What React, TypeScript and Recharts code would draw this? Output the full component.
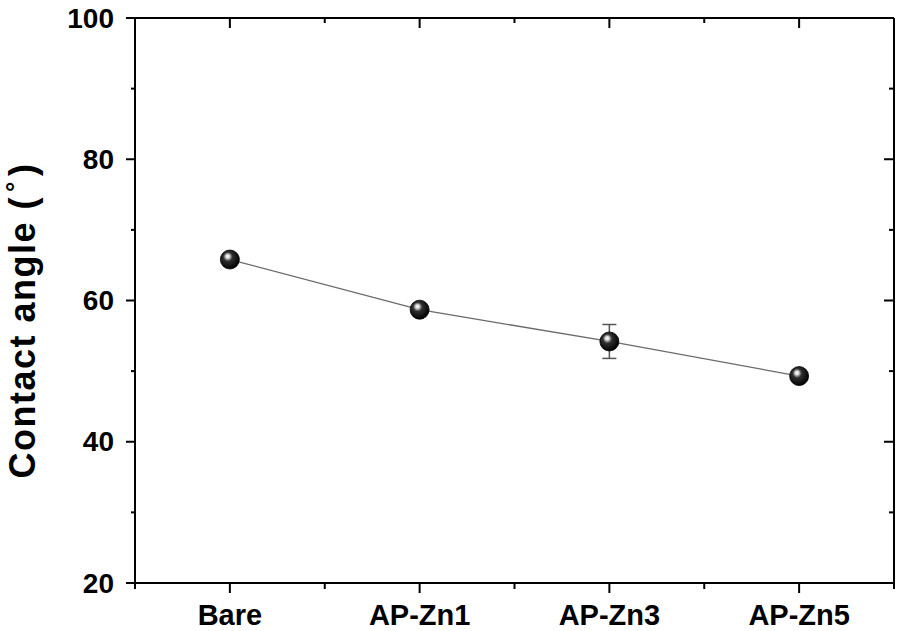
import React from 'react';
import { ComposedChart, Line, XAxis, YAxis, ErrorBar } from 'recharts';

const categories = ['Bare', 'AP-Zn1', 'AP-Zn3', 'AP-Zn5'];
const contactAngle = [65.8, 58.7, 54.2, 49.3];
const angleError = [0.5, 0.6, 2.4, 0.5];
const yMajorTicks = [20, 40, 60, 80, 100];
const yAllTicks = [20, 30, 40, 50, 60, 70, 80, 90, 100];
const xAllTicks = [0.5, 1, 1.5, 2, 2.5, 3, 3.5, 4, 4.5];

const data = categories.map((c, i) => ({ x: i + 1, name: c, y: contactAngle[i], err: angleError[i] }));

const FONT = '"Liberation Sans", Arial, Helvetica, sans-serif';

const isMajorY = (v: number) => yMajorTicks.includes(v);
const isMajorX = (v: number) => Number.isInteger(v);

const LeftTick = (props: any) => {
  const { x, y, payload } = props;
  const major = isMajorY(payload.value);
  const len = major ? 9 : 4;
  return (
    <g>
      <line x1={x} y1={y} x2={x - len} y2={y} stroke="#000" strokeWidth={2} />
      {major && (
        <text x={x - 21} y={y} textAnchor="end" dominantBaseline="central" fontFamily={FONT} fontWeight="bold" fontSize={28} fill="#000">
          {payload.value}
        </text>
      )}
    </g>
  );
};

const RightTick = (props: any) => {
  const { x, y, payload } = props;
  const major = isMajorY(payload.value);
  const len = major ? 10 : 5;
  return <line x1={x} y1={y} x2={x - len} y2={y} stroke="#000" strokeWidth={2} />;
};

const BottomTick = (props: any) => {
  const { x, y, payload } = props;
  const major = isMajorX(payload.value);
  const len = major ? 10 : 6;
  return (
    <g>
      <line x1={x} y1={y} x2={x} y2={y + len} stroke="#000" strokeWidth={2} />
      {major && (
        <text x={x} y={y + 42} textAnchor="middle" fontFamily={FONT} fontWeight="bold" fontSize={29} fill="#000">
          {categories[payload.value - 1]}
        </text>
      )}
    </g>
  );
};

const TopTick = (props: any) => {
  const { x, y, payload } = props;
  const major = isMajorX(payload.value);
  const len = major ? 10 : 5;
  return <line x1={x} y1={y} x2={x} y2={y + len} stroke="#000" strokeWidth={2} />;
};

const Sphere = (props: any) => {
  const { cx, cy } = props;
  if (cx == null || cy == null) return null;
  return <circle cx={cx} cy={cy} r={9.5} fill="url(#sphereGrad)" stroke="#000" strokeWidth={0.8} />;
};

const YLabel = (props: any) => {
  const vb = props.viewBox || {};
  const cx = vb.x + vb.width - 113;
  const cy = vb.y + vb.height / 2 + 20;
  return (
    <text x={cx} y={cy} transform={`rotate(-90 ${cx} ${cy})`} textAnchor="middle" dominantBaseline="central" fontFamily={FONT} fontWeight="bold" fontSize={36} letterSpacing={1.5} fill="#000">
      Contact angle (<tspan fontSize={26} dx={4} dy={-7}>°</tspan><tspan dx={4} dy={7}>)</tspan>
    </text>
  );
};

export default function App() {
  return (
    <div style={{ position: 'absolute', left: 0, top: 0, width: 900, height: 631, background: '#fff' }}>
      <ComposedChart width={900} height={631} data={data} margin={{ top: 17, right: 5, bottom: 47, left: 134 }}>
        <defs>
          <radialGradient id="sphereGrad" cx="42%" cy="40%" r="60%" fx="38%" fy="32%">
            <stop offset="0%" stopColor="#ffffff" />
            <stop offset="15%" stopColor="#e0e0e0" />
            <stop offset="40%" stopColor="#303030" />
            <stop offset="100%" stopColor="#000000" />
          </radialGradient>
        </defs>
        <XAxis
          xAxisId="bottom"
          type="number"
          dataKey="x"
          domain={[0.5, 4.5]}
          ticks={xAllTicks}
          interval={0}
          height={1}
          tickSize={0}
          tickMargin={0}
          tickLine={false}
          axisLine={{ stroke: '#000', strokeWidth: 2 }}
          tick={<BottomTick />}
          allowDataOverflow
        />
        <XAxis
          xAxisId="top"
          orientation="top"
          type="number"
          dataKey="x"
          domain={[0.5, 4.5]}
          ticks={xAllTicks}
          interval={0}
          height={1}
          tickSize={0}
          tickMargin={0}
          tickLine={false}
          axisLine={{ stroke: '#000', strokeWidth: 2 }}
          tick={<TopTick />}
          allowDataOverflow
        />
        <YAxis
          yAxisId="left"
          type="number"
          domain={[20, 100]}
          ticks={yAllTicks}
          interval={0}
          width={1}
          tickSize={0}
          tickMargin={0}
          tickLine={false}
          axisLine={{ stroke: '#000', strokeWidth: 2 }}
          tick={<LeftTick />}
          label={<YLabel />}
          allowDataOverflow
        />
        <YAxis
          yAxisId="right"
          orientation="right"
          type="number"
          domain={[20, 100]}
          ticks={yAllTicks}
          interval={0}
          width={1}
          tickSize={0}
          tickMargin={0}
          tickLine={false}
          axisLine={{ stroke: '#000', strokeWidth: 2 }}
          tick={<RightTick />}
          allowDataOverflow
        />
        <Line
          xAxisId="bottom"
          yAxisId="left"
          type="linear"
          dataKey="y"
          stroke="#6a6a6a"
          strokeWidth={1.3}
          dot={<Sphere />}
          activeDot={false}
          isAnimationActive={false}
        >
          <ErrorBar dataKey="err" width={7} stroke="#555" strokeWidth={1.5} direction="y" />
        </Line>
      </ComposedChart>
    </div>
  );
}
